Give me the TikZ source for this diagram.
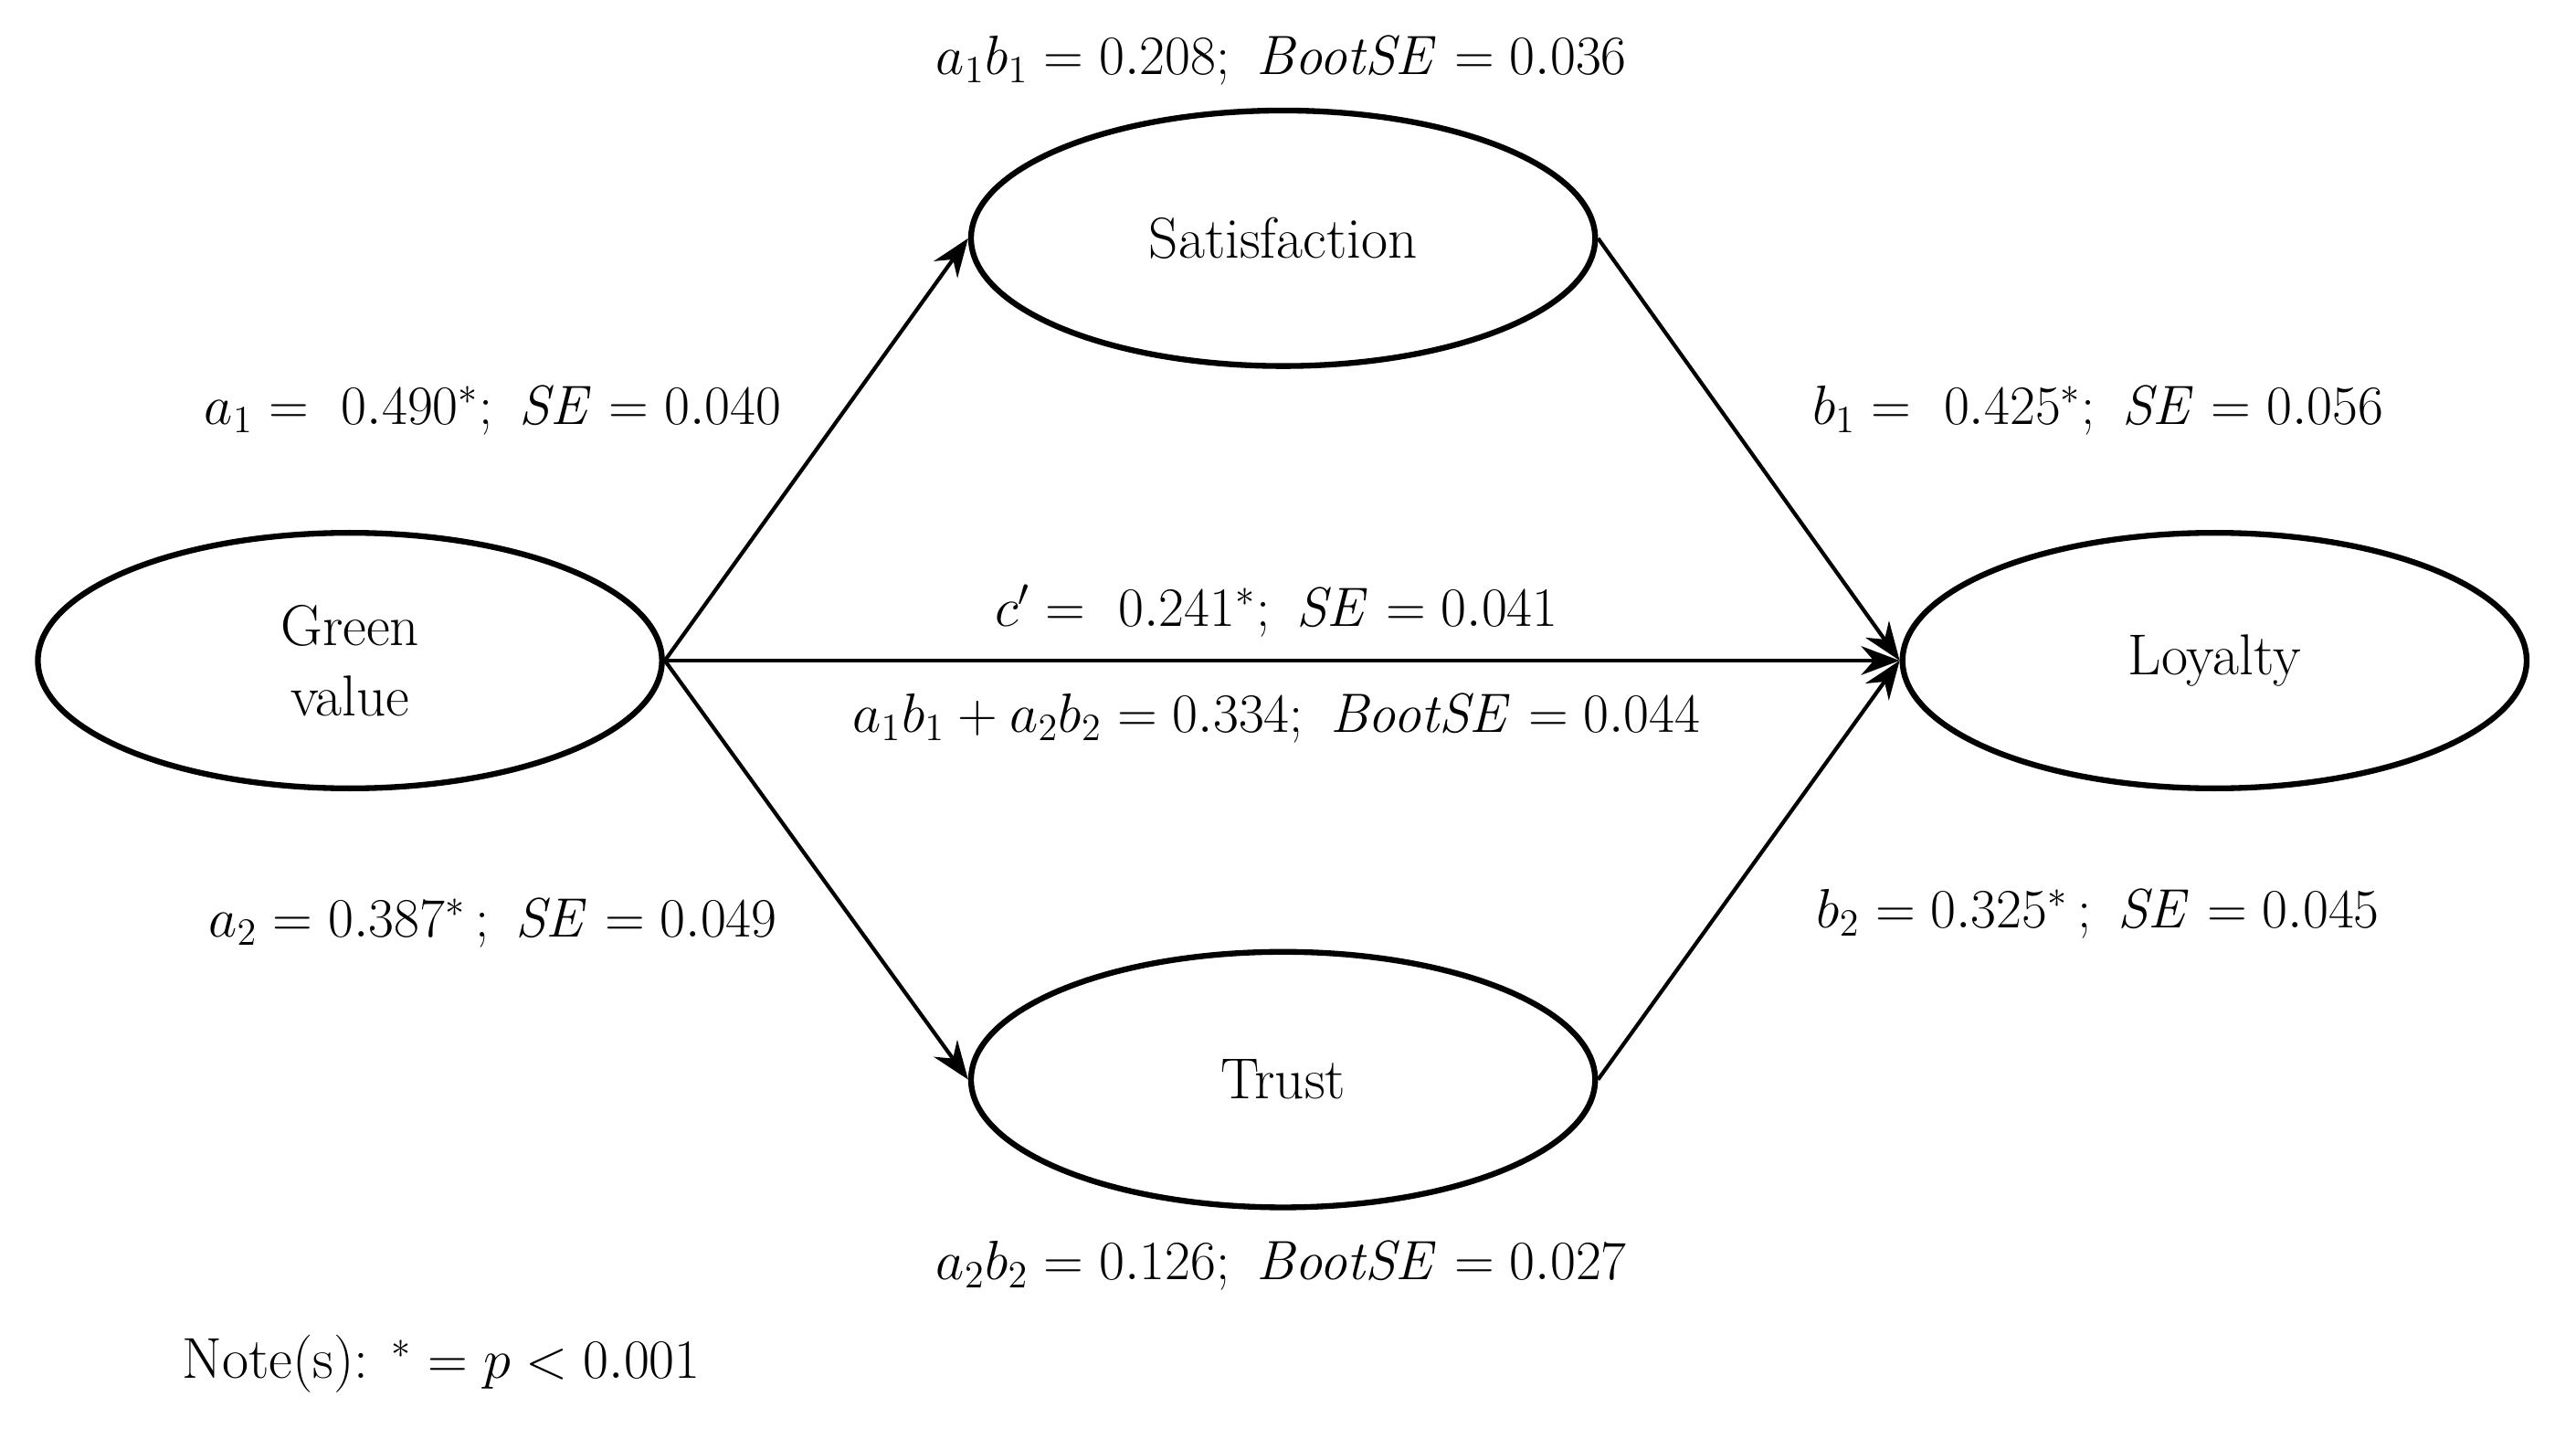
\documentclass[tikz,border=0pt]{standalone}
\usepackage{amsmath}
\usetikzlibrary{shapes.geometric,arrows.meta}
\tikzset{
  construct/.style={ellipse,draw,line width=1.8pt,minimum width=6.84cm,minimum height=2.8cm,font=\fontsize{18}{22}\selectfont,align=center},
  path/.style={draw,line width=1.2pt,-{Stealth[length=12pt,width=9pt]}},
  coef/.style={font=\fontsize{18}{22}\selectfont}
}
\begin{document}
\begin{tikzpicture}[x=0.018cm,y=-0.018cm]
    \useasboundingbox (0,0) rectangle (1568,882);
    \begin{scope}[every node/.style={construct}]
        \node (green) at (213,402) {Green\\value};
        \node (sat)   at (781,145) {Satisfaction};
        \node (trust) at (781,657) {Trust};
        \node (loy)   at (1348,402) {Loyalty};
    \end{scope}
    \begin{scope}[every edge/.style={path}]
        \path
            (green.east) edge (sat.west)
            (green.east) edge (trust.west)
            (green.east) edge (loy.west)
            (sat.east) edge (loy.west)
            (trust.east) edge (loy.west);
    \end{scope}
    \begin{scope}[every node/.style={coef}]
        \node (ind1) at (780,37) {$a_1b_1=0.208;\ \mathit{BootSE}=0.036$};
        \node (ind2) at (780,770) {$a_2b_2=0.126;\ \mathit{BootSE}=0.027$};
        \node (pa1) at (300,250) {$a_1=\ 0.490^{*};\ \mathit{SE}=0.040$};
        \node (pa2) at (300,562) {$a_2=0.387^{*}\,;\ \mathit{SE}=0.049$};
        \node (pb1) at (1277,250) {$b_1=\ 0.425^{*};\ \mathit{SE}=0.056$};
        \node (pb2) at (1277,556) {$b_2=0.325^{*}\,;\ \mathit{SE}=0.045$};
        \node (pc) at (777,372) {$c'=\ 0.241^{*};\ \mathit{SE}=0.041$};
        \node (tot) at (777,437) {$a_1b_1+a_2b_2=0.334;\ \mathit{BootSE}=0.044$};
        \node[anchor=west] (note) at (104,830) {Note(s): ${}^{*}=p<0.001$};
    \end{scope}
\end{tikzpicture}
\end{document}
